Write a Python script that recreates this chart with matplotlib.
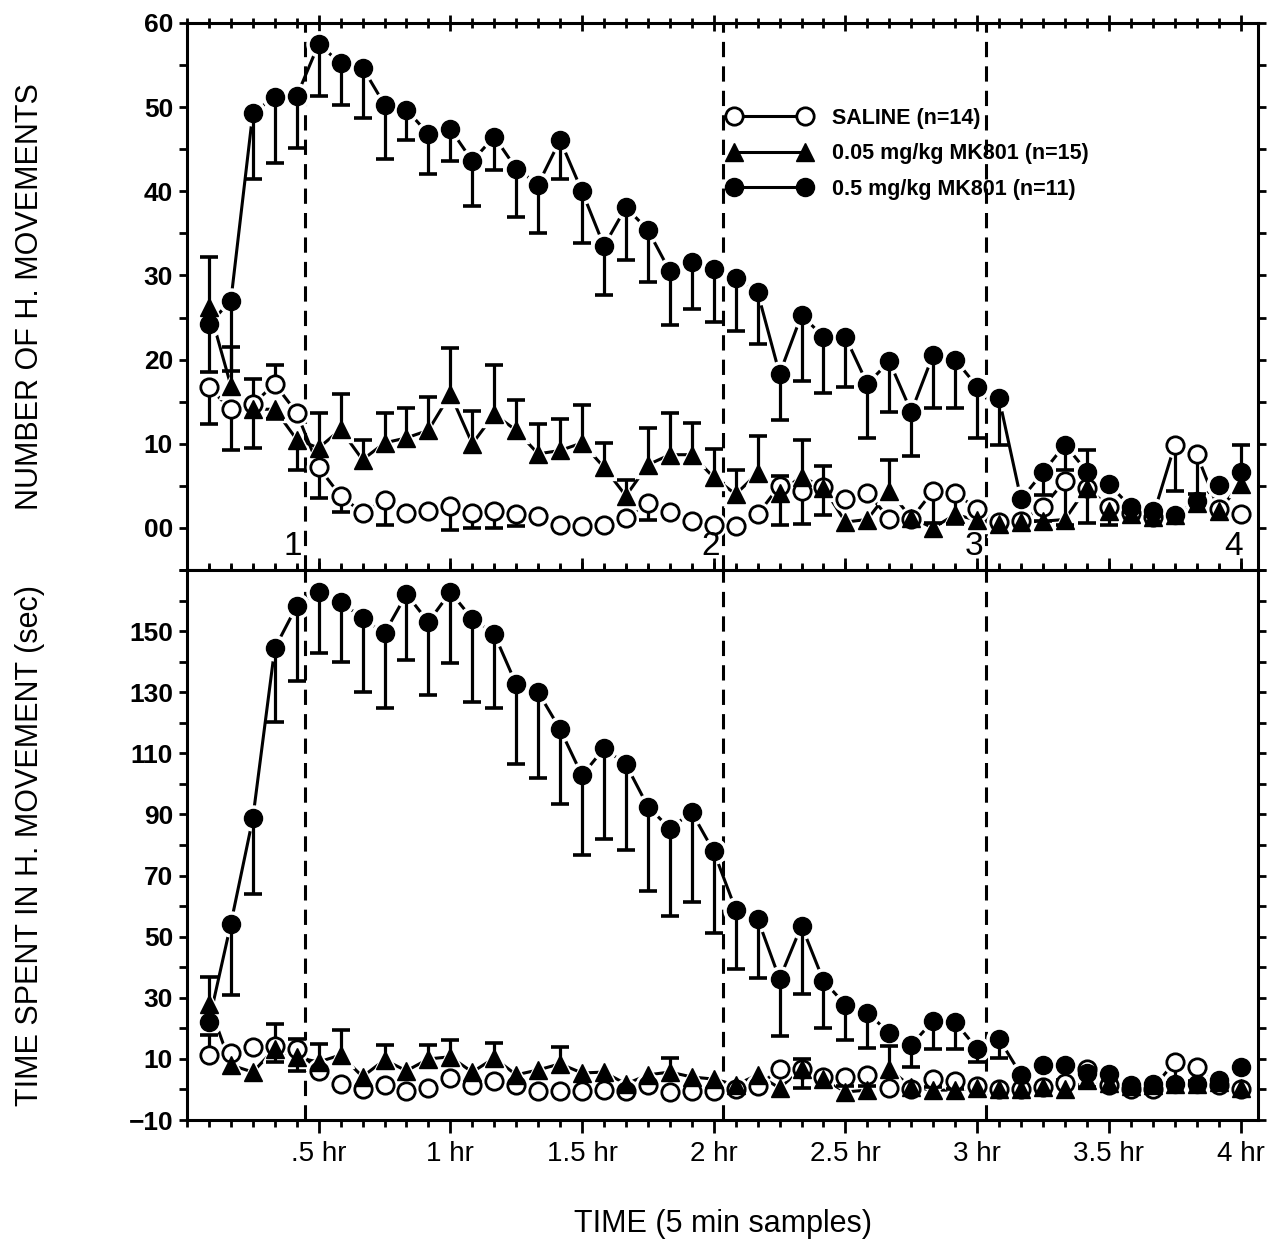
import numpy as np
import matplotlib
matplotlib.use("Agg")
import matplotlib.pyplot as plt
from matplotlib.lines import Line2D
from matplotlib.ticker import MultipleLocator, FixedLocator, FuncFormatter

plt.rcParams["font.family"] = ["Liberation Sans", "DejaVu Sans"]

# sample times, one every 5 min over 4 hr
minutes = np.arange(5, 245, 5)

# number of horizontal movements (top panel); signed errors: + bar up, - bar down
top_saline = [16.7, 14.1, 14.7, 17.1, 13.7, 7.2, 3.8, 1.8, 3.3, 1.8,
              2.0, 2.6, 1.8, 2.0, 1.6, 1.4, 0.4, 0.2, 0.4, 1.2,
              3.0, 1.9, 0.8, 0.3, 0.2, 1.6, 5.0, 4.4, 4.9, 3.4,
              4.2, 1.1, 1.1, 4.4, 4.2, 2.2, 0.7, 0.8, 2.5, 5.6,
              4.8, 2.5, 1.8, 1.3, 9.8, 8.8, 2.2, 1.6]
top_saline_err = [-4.4, -4.8, -5.2, 2.3, 0, -3.6, -1.9, 0, -2.9, 0,
                  0, -2.8, -1.8, -2.0, -1.4, 0, 0, 0, 0, 0,
                  -2.0, 0, 0, 0, 0, 0, -4.7, -3.9, -3.4, 0,
                  0, 0, 0, -3.8, -3.7, 0, 0, 0, -1.7, -5.2,
                  -4.2, -2.2, 0, 0, -5.4, -4.8, 0, 0]

top_low = [26.2, 16.9, 14.1, 14.1, 10.5, 9.5, 11.7, 8.1, 10.1, 10.7,
           11.6, 15.9, 10.0, 13.5, 11.6, 8.8, 9.2, 10.1, 7.2, 3.8,
           7.5, 8.7, 8.7, 6.0, 4.0, 6.5, 4.2, 6.1, 4.8, 0.7,
           1.0, 4.4, 1.2, 0.0, 1.6, 0.9, 0.5, 0.7, 0.8, 1.0,
           4.8, 2.0, 1.6, 1.3, 1.5, 3.0, 2.0, 5.2]
top_low_err = [6.0, 4.6, 3.6, -1.2, -3.6, 4.2, 4.2, 2.3, 3.6, 3.5,
               4.0, 5.5, 3.9, 5.8, 3.6, 3.5, 3.8, 4.5, 2.9, 1.9,
               4.4, 5.0, 3.8, 3.4, 2.9, 4.4, 2.0, 4.4, 2.5, 0,
               0, 3.7, 0, 0, 0, 0, 0, 0, 0, 0,
               4.4, 0, 0, 0, 0, 0, 0, 4.6]

top_high = [24.2, 27.0, 49.3, 51.2, 51.3, 57.5, 55.2, 54.7, 50.3, 49.7,
            46.8, 47.4, 43.6, 46.5, 42.7, 40.8, 46.1, 40.0, 33.5, 38.1,
            35.4, 30.5, 31.6, 30.8, 29.7, 28.0, 18.3, 25.3, 22.7, 22.7,
            17.1, 19.8, 13.8, 20.6, 20.0, 16.8, 15.4, 3.4, 6.6, 9.9,
            6.7, 5.2, 2.5, 2.0, 1.5, 3.2, 5.1, 6.7]
top_high_err = [-5.7, -8.4, -7.9, -7.9, -6.2, -6.2, -5.0, -6.0, -6.5, -3.6,
                -4.8, -3.8, -5.3, -4.0, -5.7, -5.8, -4.7, -6.1, -5.8, -6.3,
                -6.2, -6.4, -5.6, -6.3, -6.3, -6.1, -5.5, -7.9, -6.7, -5.9,
                -6.4, -6.0, -5.3, -6.3, -5.8, -6.1, -5.6, 0, -2.7, -3.0,
                0, 0, 0, 0, 0, 0, 0, 0]

# time spent in horizontal movement, sec (bottom panel)
bot_saline = [11.3, 12.0, 13.9, 14.3, 13.3, 6.0, 1.8, 0.2, 1.5, -0.5,
              0.5, 3.8, 1.5, 2.8, 1.5, -0.5, -0.5, -0.5, -0.3, -0.4,
              1.6, -0.8, -0.5, -0.5, 0.3, 1.0, 6.7, 6.7, 4.1, 4.1,
              4.8, 0.5, 0.3, 3.4, 2.8, 1.0, 0.2, 0.2, 0.8, 2.0,
              6.7, 1.5, 0.0, 0.3, 9.0, 7.4, 1.5, 0.2]
bot_saline_err = [6.6, 0, 0, -5.3, 3.3, 0, 0, 0, 0, 0,
                  0, 0, 0, 0, 0, 0, 0, 0, 0, 0,
                  0, 0, 0, 0, 0, 0, 0, -6.3, 0, -3.0,
                  -3.5, 0, 0, -2.5, -2.5, 0, 0, 0, 0, 0,
                  -6.0, 0, 0, 0, -7.0, -4.5, 0, 0]

bot_low = [28.0, 8.0, 5.7, 13.3, 10.5, 9.0, 11.3, 4.2, 9.7, 6.1,
           10.0, 10.7, 5.7, 10.3, 4.8, 6.4, 8.4, 5.4, 5.7, 1.8,
           4.8, 5.7, 4.1, 3.4, 1.5, 4.8, 0.5, 6.7, 3.4, -0.8,
           -0.2, 6.7, 0.8, -0.2, -0.2, 0.5, 0.2, 0.2, 0.8, 0.0,
           3.0, 2.0, 1.0, 1.5, 1.8, 1.8, 2.5, 0.5]
bot_low_err = [8.9, 0, 0, 8.2, -4.5, 6.0, 8.2, 0, 4.9, 0,
               4.6, 5.5, 0, 4.9, 0, 0, 5.5, 0, 0, 0,
               0, 4.6, 0, 0, 0, 0, 0, 3.3, 0, 0,
               0, 7.6, 0, 0, 0, 0, 0, 0, 0, 3.0,
               0, 0, 0, 0, 0, 0, 0, 0]

bot_high = [22.1, 54.3, 88.7, 144.4, 158.2, 162.8, 159.5, 154.3, 149.3, 162.1,
            153.0, 162.8, 154.0, 149.0, 132.6, 130.0, 117.9, 102.8, 111.6, 106.4,
            92.6, 85.4, 90.7, 77.9, 58.9, 55.9, 36.2, 53.6, 35.6, 27.7,
            25.1, 18.5, 14.6, 22.5, 22.1, 13.3, 16.6, 4.8, 8.0, 8.0,
            5.4, 5.1, 1.5, 1.8, 1.8, 1.8, 3.1, 7.4]
bot_high_err = [0, -23.3, -24.6, -24.2, -24.6, -20.0, -19.7, -24.3, -24.5, -21.6,
                -24.0, -23.3, -27.3, -24.2, -26.2, -28.2, -24.6, -26.0, -29.5, -27.9,
                -27.5, -28.5, -29.2, -26.6, -19.4, -19.3, -18.7, -22.3, -15.4, -11.5,
                -11.5, 0, -7.2, -9.2, -8.8, -4.3, -6.3, 0, 0, 0,
                0, 0, 0, 0, 0, 0, 0, 0]

labels = ["SALINE (n=14)", "0.05 mg/kg MK801 (n=15)", "0.5 mg/kg MK801 (n=11)"]
x_ticks = [30, 60, 90, 120, 150, 180, 210, 240]
x_tick_labels = [".5 hr", "1 hr", "1.5 hr", "2 hr", "2.5 hr", "3 hr", "3.5 hr", "4 hr"]
phase_lines = [27, 122, 182]
phase_names = ["1", "2", "3", "4"]
phase_name_x = [26.3, 121.3, 181.3, 240.5]

STYLES = [
    dict(marker="o", mfc="white", mec="black", mew=2.0, ms=12.5),
    dict(marker="^", mfc="black", mec="black", mew=1.0, ms=13),
    dict(marker="o", mfc="black", mec="black", mew=1.0, ms=13),
]
MARKER_Z = [3, 4, 5]


def draw_series(ax, y, err, style, z):
    y = np.asarray(y, float)
    err = np.asarray(err, float)
    has = err != 0
    ends = y + err
    # joining line sits under a white ring round each symbol, so it stops short
    ax.plot(minutes, y, color="black", lw=2.2, zorder=2.5)
    ax.plot(minutes, y, ls="none", marker=style["marker"], ms=style["ms"] + 5,
            mfc="white", mec="white", zorder=2.8)
    ax.vlines(minutes[has], y[has], ends[has], color="black", lw=2.3, zorder=2.9)
    ax.plot(minutes[has], ends[has], ls="none", marker="_", ms=13, mew=2.6,
            color="black", zorder=2.9)
    ax.plot(minutes, y, ls="none", zorder=z, **style)


fig = plt.figure(figsize=(12.78, 12.47), dpi=100)
left, right = 0.1463, 0.9844
ax_top = fig.add_axes([left, 0.5429, right - left, 0.9816 - 0.5429])
ax_bot = fig.add_axes([left, 0.1018, right - left, 0.5429 - 0.1018], sharex=ax_top)

panels = [
    (ax_top, (top_saline, top_low, top_high), (top_saline_err, top_low_err, top_high_err)),
    (ax_bot, (bot_saline, bot_low, bot_high), (bot_saline_err, bot_low_err, bot_high_err)),
]
for ax, ys, errs in panels:
    for y, e, st, z in zip(ys, errs, STYLES, MARKER_Z):
        draw_series(ax, y, e, st, z)
    for xv in phase_lines:
        ax.axvline(xv, color="black", lw=2.2, ls=(0, (5, 3)), zorder=1)
    for side in ax.spines.values():
        side.set_linewidth(2.2)

ax_top.set_xlim(0, 244)
ax_top.set_ylim(-5, 60)
ax_bot.set_ylim(-10, 170)

for ax in (ax_top, ax_bot):
    ax.xaxis.set_major_locator(FixedLocator(x_ticks))
    ax.xaxis.set_minor_locator(MultipleLocator(5))

ax_top.yaxis.set_major_locator(FixedLocator([0, 10, 20, 30, 40, 50, 60]))
ax_top.yaxis.set_minor_locator(MultipleLocator(5))
ax_top.yaxis.set_major_formatter(FuncFormatter(lambda v, p: f"{int(round(v)):02d}"))
ax_bot.yaxis.set_major_locator(FixedLocator([-10, 10, 30, 50, 70, 90, 110, 130, 150]))
ax_bot.yaxis.set_minor_locator(MultipleLocator(10))
ax_bot.yaxis.set_major_formatter(FuncFormatter(lambda v, p: f"{int(round(v))}".replace("-", "\u2212")))

# tick directions: outer edges point out, shared edge points in
ax_top.tick_params(axis="x", which="both", top=True, bottom=True, labelbottom=False, labeltop=False)
ax_top.tick_params(axis="x", which="major", direction="inout", length=12, width=2)
ax_top.tick_params(axis="x", which="minor", direction="inout", length=7, width=2)
ax_bot.tick_params(axis="x", which="both", top=True, bottom=True, direction="out", width=2)
ax_bot.tick_params(axis="x", which="major", length=9, labelsize=20, pad=6)
ax_bot.tick_params(axis="x", which="minor", length=5)
for ax in (ax_top, ax_bot):
    ax.tick_params(axis="y", which="both", left=True, right=True, direction="out", width=2)
    ax.tick_params(axis="y", which="major", length=6, labelsize=19, pad=4)
    ax.tick_params(axis="y", which="minor", length=6)
    for t in ax.get_yticklabels():
        t.set_fontweight("bold")

ax_bot.set_xticklabels(x_tick_labels)

for name, xv in zip(phase_names, phase_name_x):
    ax_top.text(xv, -2.2, name, ha="right", va="center", fontsize=24)

ax_top.set_ylabel("NUMBER OF H. MOVEMENTS", fontsize=22)
ax_bot.set_ylabel("TIME SPENT IN H. MOVEMENT (sec)", fontsize=22)
ax_bot.set_xlabel("TIME (5 min samples)", fontsize=22, labelpad=30)
ax_top.yaxis.set_label_coords(-0.133, 0.5)
ax_bot.yaxis.set_label_coords(-0.133, 0.5)

handles = [Line2D([], [], color="black", lw=2.2, **st) for st in STYLES]
leg = ax_top.legend(handles, labels, loc="upper left", bbox_to_anchor=(0.505, 0.845),
                    frameon=False, numpoints=2, handlelength=3.86, handletextpad=1.0,
                    labelspacing=0.68, borderaxespad=0, borderpad=0,
                    prop={"size": 15.5, "weight": "bold"})

fig.savefig("out.png", dpi=100)
